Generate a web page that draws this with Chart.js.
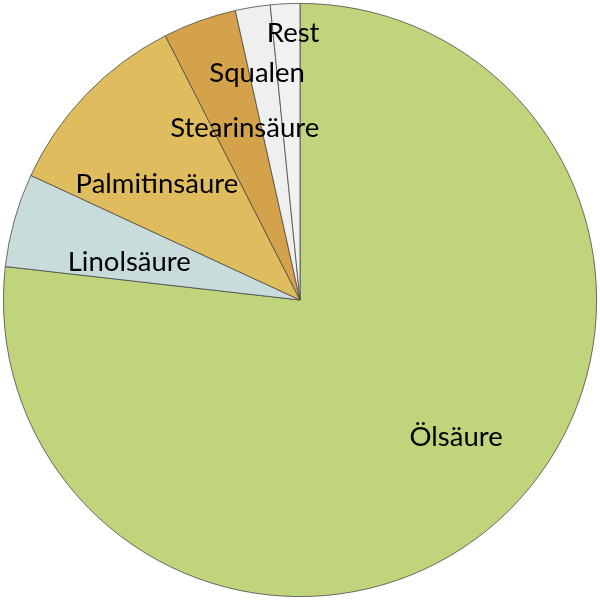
<!DOCTYPE html>
<html>
<head>
<meta charset="utf-8">
<script src="https://cdn.jsdelivr.net/npm/chart.js@4"></script>
<style>
  html, body { margin: 0; padding: 0; background: #fff; }
  #wrap { width: 600px; height: 600px; }
</style>
</head>
<body>
<div id="wrap"><canvas id="myChart" width="600" height="600"></canvas></div>
<script>
// Fettsäuren im Olivenöl, Anteile in %
let sorten = ['Ölsäure', 'Linolsäure', 'Palmitinsäure', 'Stearinsäure', 'Squalen', 'Rest'];
let anteile = [76.8, 5.1, 10.6, 4.0, 1.9, 1.6];
let farben = ['#c0d47c', '#c9dcdc', '#dfbd5e', '#d4a24a', '#efefef', '#f1f1f1'];

// where each label sits: fraction of radius + small angle shift (deg)
let labelRadius = [0.70, 0.59, 0.62, 0.61, 0.78, 0.90];
let labelShift = [-7, -3, -5, 2, -1.5, 1.4];

const etiketten = {
  id: 'etiketten',
  afterDatasetsDraw(chart) {
    let ctx = chart.ctx;
    let meta = chart.getDatasetMeta(0);
    ctx.save();
    ctx.font = '27.5px Lato';
    ctx.fillStyle = '#000';
    ctx.textAlign = 'center';
    ctx.textBaseline = 'middle';
    meta.data.forEach(function(arc, i) {
      let mitte = (arc.startAngle + arc.endAngle) / 2 + labelShift[i] * Math.PI / 180;
      let r = arc.outerRadius * labelRadius[i];
      ctx.fillText(sorten[i], arc.x + Math.cos(mitte) * r, arc.y + Math.sin(mitte) * r);
    });
    ctx.restore();
  }
};

let ctx = document.getElementById('myChart').getContext('2d');
let chart = new Chart(ctx, {
  type: 'pie',
  data: {
    labels: sorten,
    datasets: [{
      data: anteile,
      backgroundColor: farben,
      borderColor: '#4a4a4a',
      borderWidth: 0.8
    }]
  },
  options: {
    responsive: false,
    animation: false,
    layout: { padding: 3 },
    plugins: {
      legend: { display: false },
      tooltip: { enabled: false }
    }
  },
  plugins: [etiketten]
});
</script>
</body>
</html>
